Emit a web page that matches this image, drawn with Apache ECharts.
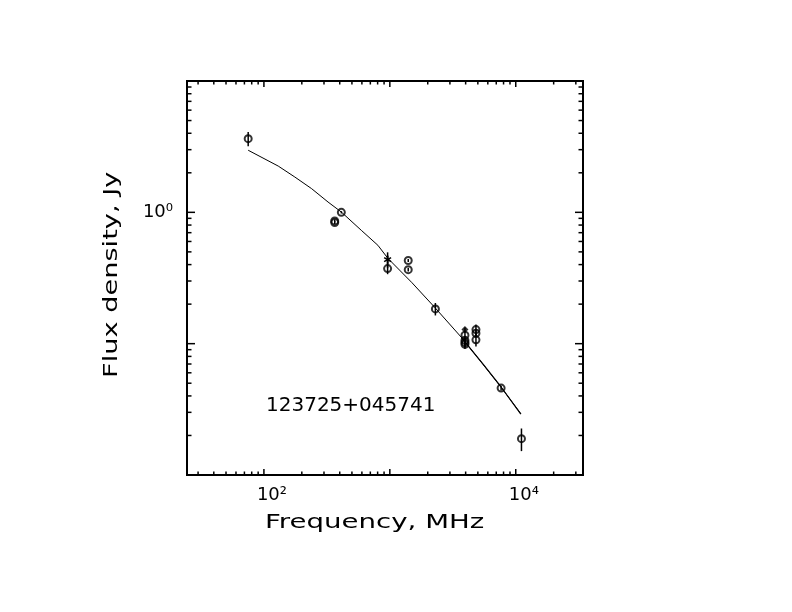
<!DOCTYPE html>
<html><head><meta charset="utf-8">
<script src="https://cdn.jsdelivr.net/npm/echarts@6/dist/echarts.min.js"></script>
<style>html,body{margin:0;padding:0;background:#fff}#c{width:792px;height:612px}</style>
</head><body><div id="c"></div>
<script>
// ---- data ----
const circFreq = [75, 365, 365, 412, 960, 1400, 1400, 2300, 3950, 3950, 3950, 3950, 4830, 4830, 4830, 7650, 11100];
const circFlux = [3.64, 0.86, 0.835, 1.0, 0.373, 0.43, 0.366, 0.184, 0.116, 0.106, 0.102, 0.099, 0.128, 0.120, 0.107, 0.0459, 0.0189];
const circErr  = [0.45, 0.02, 0.02, 0.02, 0.035, 0.012, 0.012, 0.02, 0.008, 0.008, 0.008, 0.008, 0.012, 0.008, 0.012, 0.002, 0.0037];
const starFreq = [960];
const starFlux = [0.436];
const starErr  = [0.06];
const dotFreq  = [3950];
const dotFlux  = [0.128];
const dotErr   = [0.005];
const fitFreq  = [75, 130, 176, 239, 323, 412, 594, 804, 964, 1500, 2260, 3785, 5500, 7620, 10970];
const fitFlux  = [2.97, 2.25, 1.857, 1.515, 1.198, 1.005, 0.729, 0.561, 0.447, 0.291, 0.190, 0.109, 0.0696, 0.0468, 0.0293];
const fit2Freq = [3700, 5500, 7620, 10970];
const fit2Flux = [0.111, 0.0700, 0.0470, 0.0291];
const xMajorTicks = [100, 1000, 10000];
const xMinorTicks = [30, 40, 50, 60, 70, 80, 90, 200, 300, 400, 500, 600, 700, 800, 900,
                     2000, 3000, 4000, 5000, 6000, 7000, 8000, 9000, 20000, 30000];
const yMajorTicks = [0.01, 0.1, 1, 10];
const yMinorTicks = [0.02, 0.03, 0.04, 0.05, 0.06, 0.07, 0.08, 0.09, 0.2, 0.3, 0.4, 0.5, 0.6, 0.7, 0.8, 0.9,
                     2, 3, 4, 5, 6, 7, 8, 9];
const xLabelVals = [100, 10000];
const xLabelText = ['10\u00B2', '10\u2074'];
const yLabelVals = [1];
const yLabelText = ['10\u2070'];
const sourceName = '123725+045741';
const xTitle = 'Frequency, MHz';
const yTitle = 'Flux density, Jy';

// ---- axis ranges ----
const X_MIN = 24.5, X_MAX = 34200, Y_MIN = 0.01, Y_MAX = 10;
const FONT = 'DejaVu Sans';

const chart = echarts.init(document.getElementById('c'), null, {renderer: 'canvas'});

const zip = (a, b) => a.map((v, i) => [v, b[i]]);
const errOf = (f, s, e) => f.map((v, i) => [v, s[i] - e[i], s[i] + e[i]]);
const lineStyle = {stroke: '#000', lineWidth: 1.5};

const option = {
  animation: false,
  backgroundColor: '#fff',
  grid: {left: 187, top: 81, width: 396, height: 394, show: true, borderColor: '#000', borderWidth: 2, backgroundColor: 'transparent'},
  xAxis: {type: 'log', logBase: 10, min: X_MIN, max: X_MAX, axisLine: {show: false}, axisTick: {show: false}, axisLabel: {show: false}, splitLine: {show: false}},
  yAxis: {type: 'log', logBase: 10, min: Y_MIN, max: Y_MAX, axisLine: {show: false}, axisTick: {show: false}, axisLabel: {show: false}, splitLine: {show: false}},
  graphic: [
    {type: 'text', x: 265, y: 523, scaleX: 1.38, style: {text: xTitle, font: '20px "' + FONT + '"', fill: '#000', verticalAlign: 'middle'}},
    {type: 'text', x: 112, y: 378, rotation: Math.PI / 2, scaleX: 1.36, style: {text: yTitle, font: '20px "' + FONT + '"', fill: '#000', verticalAlign: 'middle'}},
    {type: 'text', x: 266, y: 406, style: {text: sourceName, font: '20px "' + FONT + '"', fill: '#000', verticalAlign: 'middle'}}
  ],
  series: [
    {type: 'line', data: zip(fitFreq, fitFlux), showSymbol: false, smooth: false, lineStyle: {color: '#000', width: 1}, silent: true, z: 2},
    {type: 'line', data: zip(fit2Freq, fit2Flux), showSymbol: false, smooth: false, lineStyle: {color: '#000', width: 1.2}, silent: true, z: 2},
    // error bars
    {type: 'custom', data: errOf(circFreq, circFlux, circErr).concat(errOf(starFreq, starFlux, starErr), errOf(dotFreq, dotFlux, dotErr)),
     encode: {x: 0, y: [1, 2]}, silent: true, z: 3,
     renderItem: (p, api) => {
       const a = api.coord([api.value(0), api.value(1)]);
       const b = api.coord([api.value(0), api.value(2)]);
       return {type: 'line', shape: {x1: a[0], y1: a[1], x2: b[0], y2: b[1]}, style: lineStyle};
     }},
    // open circles
    {type: 'scatter', data: zip(circFreq, circFlux), symbol: 'circle', symbolSize: 7,
     itemStyle: {color: 'rgba(0,0,0,0)', borderColor: '#000', borderWidth: 2}, silent: true, z: 4},
    // filled point
    {type: 'scatter', data: zip(dotFreq, dotFlux), symbol: 'diamond', symbolSize: 7,
     itemStyle: {color: '#000'}, silent: true, z: 4},
    // asterisk
    {type: 'custom', data: zip(starFreq, starFlux), encode: {x: 0, y: 1}, silent: true, z: 4,
     renderItem: (p, api) => {
       const c = api.coord([api.value(0), api.value(1)]);
       const r = 4;
       const ch = [];
       for (let k = 0; k < 3; k++) {
         const ang = k * Math.PI / 3 + Math.PI / 6;
         ch.push({type: 'line', shape: {x1: c[0] - r * Math.cos(ang), y1: c[1] - r * Math.sin(ang), x2: c[0] + r * Math.cos(ang), y2: c[1] + r * Math.sin(ang)}, style: lineStyle});
       }
       ch.push({type: 'line', shape: {x1: c[0], y1: c[1] - r, x2: c[0], y2: c[1] + r}, style: lineStyle});
       return {type: 'group', children: ch};
     }},
    // x ticks (bottom and top)
    {type: 'custom', data: xMajorTicks.map(v => [v, 1, 1]).concat(xMinorTicks.map(v => [v, 1, 0])),
     encode: {x: 0, y: 1}, silent: true, z: 5,
     renderItem: (p, api) => {
       const v = api.value(0), len = api.value(2) ? 6 : 3.5;
       const b = api.coord([v, Y_MIN]), t = api.coord([v, Y_MAX]);
       return {type: 'group', children: [
         {type: 'line', shape: {x1: b[0], y1: b[1], x2: b[0], y2: b[1] - len}, style: lineStyle},
         {type: 'line', shape: {x1: t[0], y1: t[1], x2: t[0], y2: t[1] + len}, style: lineStyle}]};
     }},
    // y ticks (left and right)
    {type: 'custom', data: yMajorTicks.map(v => [100, v, 1]).concat(yMinorTicks.map(v => [100, v, 0])),
     encode: {x: 0, y: 1}, silent: true, z: 5,
     renderItem: (p, api) => {
       const v = api.value(1), len = api.value(2) ? 8 : 4.5;
       const l = api.coord([X_MIN, v]), r = api.coord([X_MAX, v]);
       return {type: 'group', children: [
         {type: 'line', shape: {x1: l[0], y1: l[1], x2: l[0] + len, y2: l[1]}, style: lineStyle},
         {type: 'line', shape: {x1: r[0], y1: r[1], x2: r[0] - len, y2: r[1]}, style: lineStyle}]};
     }},
    // x tick labels
    {type: 'custom', data: xLabelVals.map((v, i) => [v, 1, i]), encode: {x: 0, y: 1}, silent: true, z: 5,
     renderItem: (p, api) => {
       const b = api.coord([api.value(0), Y_MIN]);
       return {type: 'text', x: b[0] - 7, y: b[1] + 20, style: {text: xLabelText[api.value(2)], font: '18px "' + FONT + '"', fill: '#000', align: 'left', verticalAlign: 'middle'}};
     }},
    // y tick labels
    {type: 'custom', data: yLabelVals.map((v, i) => [100, v, i]), encode: {x: 0, y: 1}, silent: true, z: 5,
     renderItem: (p, api) => {
       const l = api.coord([X_MIN, api.value(1)]);
       return {type: 'text', x: l[0] - 14, y: l[1], style: {text: yLabelText[api.value(2)], font: '18px "' + FONT + '"', fill: '#000', align: 'right', verticalAlign: 'middle'}};
     }}
  ]
};
chart.setOption(option);
</script></body></html>
